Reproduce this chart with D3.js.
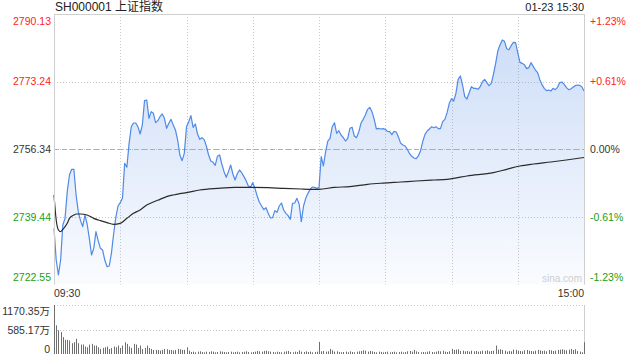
<!DOCTYPE html>
<html><head><meta charset="utf-8">
<script src="https://cdn.jsdelivr.net/npm/d3@7/dist/d3.min.js"></script>
<style>
html,body{margin:0;padding:0;background:#fff;}
svg{display:block;font-family:"Liberation Sans",Arial,"Noto Sans CJK SC",sans-serif;}
</style></head>
<body><svg id="c" width="640" height="360"></svg>
<script>
const title = "SH000001 上证指数";
const stamp = "01-23 15:30";
const prevClose = 2756.34;
const priceTicks = [2790.13, 2773.24, 2756.34, 2739.44, 2722.55];
const pctTicks = ["+1.23%", "+0.61%", "0.00%", "-0.61%", "-1.23%"];
const timeLabels = ["09:30", "15:00"];
const volTicks = [1170.35, 585.17, 0];
const volTickLabels = ["1170.35万", "585.17万", "0"];
const gridMinutes = [30, 60, 90, 120, 150, 180, 210];

const prices = [
2736.60,2728.69,2724.95,2728.69,2737.43,2739.10,2745.76,2749.92,2751.34,2751.34,
2744.93,2740.76,2738.52,2737.02,2739.93,2737.68,2734.10,2729.94,2731.61,2735.77,
2733.52,2731.61,2731.19,2728.69,2727.03,2727.20,2730.36,2735.19,2739.35,2742.18,
2743.01,2744.09,2752.84,2751.84,2757.83,2761.99,2762.91,2762.91,2761.99,2760.16,
2762.41,2768.49,2768.65,2764.07,2765.74,2765.32,2762.99,2763.49,2764.49,2765.16,
2764.07,2761.58,2762.83,2763.82,2762.41,2761.16,2758.66,2754.92,2753.50,2755.33,
2761.99,2763.24,2764.74,2761.83,2762.66,2760.16,2758.83,2759.25,2758.75,2757.16,
2754.92,2753.42,2753.09,2752.34,2754.58,2754.92,2752.67,2750.75,2749.34,2750.75,
2752.42,2750.17,2748.67,2750.25,2751.17,2750.50,2749.51,2748.51,2747.17,2746.92,
2748.01,2746.59,2744.68,2743.10,2742.18,2741.26,2741.76,2740.35,2739.18,2739.27,
2741.01,2740.60,2742.18,2742.93,2741.18,2740.35,2739.77,2738.85,2742.85,2742.93,
2744.09,2742.68,2738.27,2742.18,2744.09,2745.34,2746.34,2746.92,2746.84,2746.59,
2746.76,
2754.50,2752.17,2755.75,2758.41,2759.08,2761.99,2762.99,2760.33,2760.99,2759.91,
2759.25,2758.41,2759.08,2761.58,2761.83,2759.66,2759.25,2760.66,2762.83,2763.82,
2764.91,2766.32,2766.82,2765.74,2763.82,2761.41,2761.58,2761.41,2761.49,2761.33,
2760.83,2760.74,2759.99,2760.83,2760.66,2759.33,2757.83,2757.41,2757.16,2756.33,
2755.25,2754.58,2754.17,2754.00,2754.67,2756.00,2758.33,2760.08,2760.91,2761.41,
2761.99,2761.74,2761.99,2761.49,2761.49,2763.24,2763.82,2765.49,2767.82,2768.99,
2768.40,2770.32,2773.81,2774.65,2772.40,2769.49,2768.90,2770.48,2771.98,2771.57,
2771.57,2771.32,2771.98,2773.23,2773.81,2772.98,2772.23,2772.81,2775.06,2777.81,
2780.97,2782.47,2783.64,2783.30,2781.47,2781.22,2782.22,2783.05,2782.97,2780.47,
2778.06,2777.81,2777.48,2776.48,2776.73,2777.98,2777.06,2776.14,2775.48,2773.73,
2772.48,2771.57,2770.98,2771.15,2770.90,2771.57,2771.23,2771.82,2772.98,2773.15,
2772.57,2771.82,2771.23,2771.40,2771.82,2772.23,2772.40,2772.32,2771.98,2770.90
];

const avgMinutes = [0,1,2,3,4,6,7,9,10,12,15,18,21,24,27,30,33,36,39,42,45,48,51,54,57,60,66,74,82,89,97,104,112,120,127,134,142,149,157,164,172,178,181,187,199,205,211,217,225,232,240];
const avgPrices = [2744.93,2738.68,2736.19,2735.77,2736.35,2737.85,2739.10,2739.93,2740.18,2740.18,2739.93,2739.10,2738.52,2738.02,2737.60,2737.85,2739.10,2740.35,2741.18,2742.43,2743.18,2743.84,2744.51,2744.93,2745.26,2745.51,2746.18,2746.59,2746.84,2746.84,2746.76,2746.59,2746.43,2746.34,2746.84,2747.01,2747.59,2747.90,2748.17,2748.42,2748.67,2748.84,2749.09,2749.67,2750.50,2751.34,2752.17,2752.67,2753.17,2753.67,2754.30];

const volumes = [
1170.35,686,565,525,404,339,339,323,258,282,
363,258,226,226,178,161,226,242,202,202,
161,121,145,161,178,121,145,178,161,202,
145,202,282,242,178,145,242,226,145,202,
121,145,202,145,121,97,97,97,81,97,
121,113,97,97,81,97,121,113,97,97,
161,81,
48,56,40,56,64,48,40,56,48,
64,56,40,48,64,56,48,40,48,56,
40,48,56,40,48,56,64,48,40,48,
56,72,64,56,72,80,64,56,48,40,
56,48,40,56,64,72,48,40,56,48,
88,56,48,64,48,56,40,48,56,290,
64,72,56,64,121,88,56,64,48,40,
48,56,40,64,48,40,56,64,72,88,
80,56,72,64,48,40,56,48,40,48,
56,40,48,56,40,48,56,40,48,64,
72,56,97,64,48,40,48,40,56,64,
48,40,56,72,64,80,56,48,64,121,
97,105,113,72,80,64,72,56,80,64,
72,56,64,80,72,88,64,72,80,202,
105,113,97,80,56,72,64,105,97,80,
72,64,88,97,80,72,64,80,97,88,
72,80,64,97,88,72,80,97,105,113,
97,88,105,121,97,113,72,56,40,282
];

const svg = d3.select("#c");
const L = 54, R = 584, T = 14, B = 284.6, VT = 305, VB = 354;
const x = d3.scaleLinear().domain([0, 240]).range([L, R]);
const y = d3.scaleLinear().domain([2722.55, 2790.13]).range([B, T]);
const yv = d3.scaleLinear().domain([0, 1170.35]).range([VB, VT]);
const red = "#f22", green = "#1a9e1a", dark = "#333";
const colorFor = i => i < 2 ? red : (i === 2 ? dark : green);

const defs = svg.append("defs");
const g = defs.append("linearGradient").attr("id","ag").attr("gradientUnits","userSpaceOnUse")
  .attr("x1",0).attr("y1",T).attr("x2",0).attr("y2",B);
g.append("stop").attr("offset","0").attr("stop-color","#4d86e4").attr("stop-opacity",0.30);
g.append("stop").attr("offset","1").attr("stop-color","#4d86e4").attr("stop-opacity",0.03);

// grid
const grid = svg.append("g").attr("stroke","#c8c8c8").attr("stroke-dasharray","1,2").attr("stroke-width",1);
[priceTicks[1], priceTicks[2], priceTicks[3]].forEach(v => {
  grid.append("line").attr("x1",L).attr("x2",R).attr("y1",Math.round(y(v))+0.5).attr("y2",Math.round(y(v))+0.5);
});
gridMinutes.forEach(m => {
  grid.append("line").attr("x1",Math.round(x(m))+0.5).attr("x2",Math.round(x(m))+0.5).attr("y1",T).attr("y2",B);
});
[volTicks[0], volTicks[1]].forEach(v => {
  grid.append("line").attr("x1",L).attr("x2",R).attr("y1",Math.round(yv(v))+0.5).attr("y2",Math.round(yv(v))+0.5);
});

// area + lines
const idx = d3.range(prices.length);
svg.append("path").datum(idx).attr("fill","url(#ag)")
  .attr("d", d3.area().x(i => x(i)).y0(B).y1(i => y(prices[i])));
svg.append("line").attr("x1",L).attr("x2",R).attr("y1",Math.round(y(prevClose))+0.5).attr("y2",Math.round(y(prevClose))+0.5)
  .attr("stroke","#ee9a6a").attr("stroke-dasharray","5,3").attr("stroke-width",1);
svg.append("path").datum(idx).attr("fill","none").attr("stroke","#4f8ae6").attr("stroke-width",1.2)
  .attr("stroke-linejoin","round")
  .attr("d", d3.line().x(i => x(i)).y(i => y(prices[i])));
svg.append("path").datum(d3.range(avgMinutes.length)).attr("fill","none").attr("stroke","#2b2b2b").attr("stroke-width",1.2)
  .attr("d", d3.line().curve(d3.curveMonotoneX).x(k => x(avgMinutes[k])).y(k => y(avgPrices[k])));

// borders
const bd = svg.append("g").attr("stroke","#cfcfcf").attr("stroke-width",1);
bd.append("line").attr("x1",L+0.5).attr("x2",L+0.5).attr("y1",T).attr("y2",B);
bd.append("line").attr("x1",R+0.5).attr("x2",R+0.5).attr("y1",T).attr("y2",B);
bd.append("line").attr("x1",L).attr("x2",R+1).attr("y1",T+0.5).attr("y2",T+0.5);
bd.append("line").attr("x1",L+0.5).attr("x2",L+0.5).attr("y1",VT).attr("y2",VB);
bd.append("line").attr("x1",R+0.5).attr("x2",R+0.5).attr("y1",VT).attr("y2",VB);

// volume bars
svg.append("g").selectAll("rect").data(volumes).join("rect")
  .attr("x",(d,i) => Math.round(x(i)))
  .attr("width",1)
  .attr("y",d => yv(d))
  .attr("height",d => VB - yv(d))
  .attr("fill","#6f6f6f");

// texts
svg.append("text").attr("x",55).attr("y",7).attr("dy","0.36em").attr("font-size",12).attr("fill","#222").text(title);
svg.append("text").attr("x",R).attr("y",7).attr("dy","0.36em").attr("text-anchor","end").attr("font-size",11).attr("fill","#222").text(stamp);

const lblY = (i, v) => i === 0 ? y(v) + 7 : (i === priceTicks.length - 1 ? y(v) - 7.5 : y(v));
priceTicks.forEach((v, i) => {
  svg.append("text").attr("x",51).attr("y",lblY(i, v)).attr("dy","0.36em").attr("text-anchor","end")
    .attr("font-size",10.5).attr("fill",colorFor(i)).text(v.toFixed(2));
  svg.append("text").attr("x",590).attr("y",lblY(i, v)).attr("dy","0.36em")
    .attr("font-size",10.5).attr("fill",colorFor(i)).text(pctTicks[i]);
});
svg.append("text").attr("x",L).attr("y",293).attr("dy","0.36em").attr("font-size",10.5).attr("fill",dark).text(timeLabels[0]);
svg.append("text").attr("x",R).attr("y",293).attr("dy","0.36em").attr("text-anchor","end").attr("font-size",10.5).attr("fill",dark).text(timeLabels[1]);
svg.append("text").attr("x",582).attr("y",278).attr("dy","0.36em").attr("text-anchor","end").attr("font-size",10).attr("fill","#cfcfcf").text("sina.com");

volTicks.forEach((v, i) => {
  const yy = i === 0 ? yv(v) + 6.5 : (i === 2 ? yv(v) - 5 : yv(v) + 0.5);
  svg.append("text").attr("x",50).attr("y",yy).attr("dy","0.36em").attr("text-anchor","end")
    .attr("font-size",10.5).attr("fill",dark).text(volTickLabels[i]);
});
</script></body></html>
